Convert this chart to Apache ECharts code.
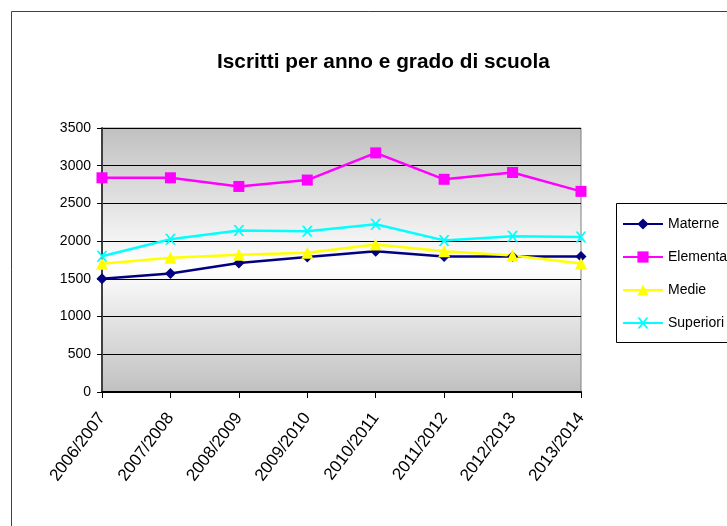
<!DOCTYPE html>
<html>
<head>
<meta charset="utf-8">
<script src="https://cdn.jsdelivr.net/npm/echarts@6/dist/echarts.min.js"></script>
<style>
  html, body { margin: 0; padding: 0; background: #fff; }
  #chart { width: 727px; height: 526px; }
</style>
</head>
<body>
<div id="chart"></div>
<script>
// anni scolastici
var anni = ['2006/2007', '2007/2008', '2008/2009', '2009/2010', '2010/2011', '2011/2012', '2012/2013', '2013/2014'];

// iscritti per grado
var materne    = [1500, 1570, 1710, 1790, 1865, 1795, 1795, 1795];
var elementari = [2840, 2840, 2725, 2810, 3170, 2820, 2910, 2660];
var medie      = [1700, 1780, 1820, 1845, 1955, 1865, 1810, 1705];
var superiori  = [1800, 2025, 2140, 2130, 2225, 2010, 2065, 2055];

var yTicks = [0, 500, 1000, 1500, 2000, 2500, 3000, 3500];

var font = '"Liberation Sans", Arial, sans-serif';
var xSymbol = 'path://M0,0 L2,0 L5,3.6 L8,0 L10,0 L6,5 L10,10 L8,10 L5,6.4 L2,10 L0,10 L4,5 Z';

var chart = echarts.init(document.getElementById('chart'));

function serie(name, data, color, symbol, size) {
  return {
    name: name,
    type: 'line',
    data: data,
    symbol: symbol,
    symbolSize: size,
    lineStyle: { color: color, width: 2.5 },
    itemStyle: { color: color },
    animation: false
  };
}

var option = {
  backgroundColor: '#fff',
  title: {
    text: 'Iscritti per anno e grado di scuola',
    left: 212,
    top: 47,
    textStyle: { fontFamily: font, fontSize: 20.8, fontWeight: 'bold', color: '#000' }
  },
  legend: {
    orient: 'vertical',
    left: 622,
    top: 217,
    padding: 0,
    itemWidth: 40,
    itemHeight: 14,
    itemGap: 19,
    textStyle: { fontFamily: font, fontSize: 14, color: '#000' },
    data: ['Materne', 'Elementari', 'Medie', 'Superiori']
  },
  grid: {
    left: 102, right: 146, top: 128, bottom: 134,
    show: true,
    borderColor: '#808080',
    borderWidth: 1,
    backgroundColor: new echarts.graphic.LinearGradient(0, 0, 0, 1, [
      { offset: 0, color: '#c0c0c0' },
      { offset: 0.52, color: '#ffffff' },
      { offset: 1, color: '#c0c0c0' }
    ])
  },
  xAxis: {
    type: 'category',
    data: anni,
    boundaryGap: false,
    axisLine: { lineStyle: { color: '#000', width: 2 } },
    axisTick: { show: true, length: 6, interval: 0, lineStyle: { color: '#000' } },
    axisLabel: { interval: 0, rotate: 53, margin: 23, fontFamily: font, fontSize: 17, color: '#000' }
  },
  yAxis: {
    type: 'value',
    min: yTicks[0],
    max: yTicks[yTicks.length - 1],
    interval: 500,
    axisLine: { show: true, lineStyle: { color: '#404040', width: 2 } },
    axisTick: { show: true, length: 5, lineStyle: { color: '#000' } },
    axisLabel: {
      margin: 11, fontFamily: font, fontSize: 14, color: '#000',
      formatter: function (v) { return String(v); }
    },
    splitLine: { show: true, lineStyle: { color: '#000', width: 1 } }
  },
  graphic: [
    {
      type: 'rect',
      shape: { x: 11.5, y: 11.5, width: 800, height: 600 },
      style: { fill: null, stroke: '#404040', lineWidth: 1 },
      silent: true, z: -1
    },
    {
      type: 'rect',
      shape: { x: 616.5, y: 203.5, width: 200, height: 139 },
      style: { fill: '#fff', stroke: '#000', lineWidth: 1 },
      silent: true, z: -1
    }
  ],
  series: [
    serie('Materne', materne, '#000080', 'diamond', 11),
    serie('Elementari', elementari, '#ff00ff', 'rect', 11),
    serie('Medie', medie, '#ffff00', 'triangle', 12),
    serie('Superiori', superiori, '#00ffff', xSymbol, 11)
  ]
};

chart.setOption(option);
</script>
</body>
</html>
